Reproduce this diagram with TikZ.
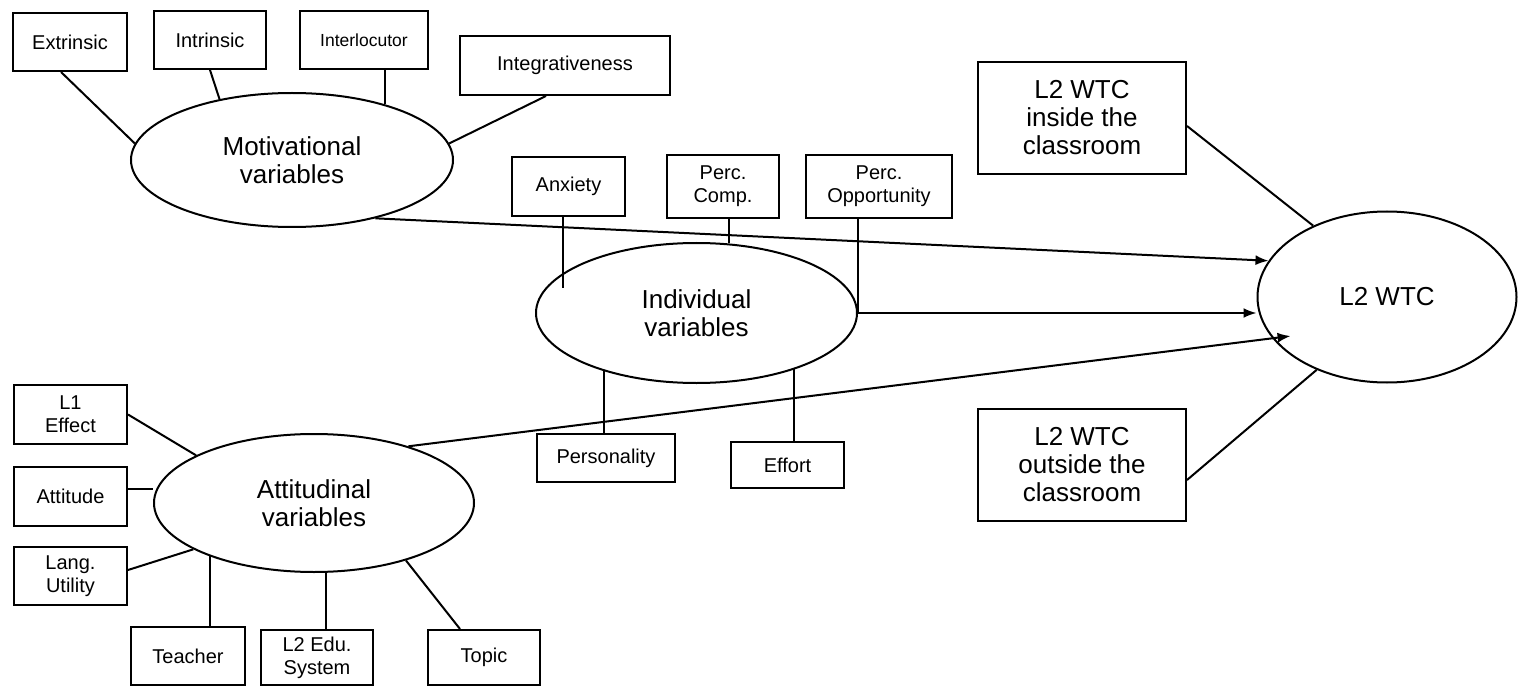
\documentclass[tikz,border=0pt]{standalone}
\usepackage{fontspec}
\setmainfont{Liberation Sans}
\usepackage{tikz}
\usetikzlibrary{shapes.geometric}
\usetikzlibrary{arrows.meta}
\tikzstyle{varbox} = [rectangle, draw=black, line width=2pt, inner sep=0pt, text centered, align=center, font=\fontsize{20}{23}\selectfont]
\tikzstyle{wtcbox} = [rectangle, draw=black, line width=2pt, inner sep=0pt, text centered, align=center, font=\fontsize{26}{28}\selectfont]
\tikzstyle{latent} = [ellipse, draw=black, line width=2pt, inner sep=0pt, text centered, align=center, font=\fontsize{26}{28.5}\selectfont]
\tikzstyle{link} = [line width=2pt]
\tikzstyle{arrow} = [line width=2pt, -{Latex[length=13pt,width=10pt]}]

\begin{document}
\begin{tikzpicture}[x=1pt, y=-1pt]
        \useasboundingbox (0,0) rectangle (1518,687);
        \node (mot) [latent, minimum width=322pt, minimum height=134pt] at (292,160) {Motivational\\variables};
        \node (ind) [latent, minimum width=321pt, minimum height=140pt] at (696.5,313) {Individual\\variables};
        \node (att) [latent, minimum width=320pt, minimum height=138pt] at (314,503) {Attitudinal\\variables};
        \node (wtc) [latent, minimum width=259pt, minimum height=171pt] at (1387,297) {L2 WTC};

        \node (ext) [varbox, minimum width=114pt, minimum height=58pt] at (70,42) {Extrinsic};
        \node (intr) [varbox, minimum width=112pt, minimum height=58pt] at (210,40) {Intrinsic};
        \node (intl) [varbox, minimum width=128pt, minimum height=58pt, font=\fontsize{17.5}{20}\selectfont] at (364,40) {Interlocutor};
        \node (integ) [varbox, minimum width=210pt, minimum height=59pt] at (565,65.5) {Integrativeness};

        \node (anx) [varbox, minimum width=113pt, minimum height=59pt] at (568.5,186.5) {Anxiety};
        \node (pcomp) [varbox, minimum width=112pt, minimum height=63pt] at (723,186.5) {Perc.\\Comp.};
        \node (popp) [varbox, minimum width=146pt, minimum height=63pt] at (879,186.5) {Perc.\\Opportunity};
        \node (pers) [varbox, minimum width=138pt, minimum height=48pt] at (606,458) {Personality};
        \node (effort) [varbox, minimum width=113pt, minimum height=46pt] at (787.5,465) {Effort};

        \node (l1) [varbox, minimum width=113pt, minimum height=59pt] at (70.5,414.5) {L1\\Effect};
        \node (attd) [varbox, minimum width=113pt, minimum height=59pt] at (70.5,496.5) {Attitude};
        \node (lang) [varbox, minimum width=113pt, minimum height=58pt] at (70.5,576) {Lang.\\Utility};
        \node (teacher) [varbox, minimum width=114pt, minimum height=58pt] at (188,656) {Teacher};
        \node (edu) [varbox, minimum width=112pt, minimum height=55pt] at (317,657.5) {L2 Edu.\\System};
        \node (topic) [varbox, minimum width=112pt, minimum height=55pt] at (484,657.5) {Topic};

        \node (inside) [wtcbox, minimum width=208pt, minimum height=112pt] at (1082,118) {L2 WTC\\inside the\\classroom};
        \node (outside) [wtcbox, minimum width=208pt, minimum height=112pt] at (1082,465) {L2 WTC\\outside the\\classroom};

        \draw [link] ([xshift=-9pt]ext.south) -- (mot.174);
        \draw [link] (intr.south) -- (mot.140);
        \draw [link] (mot.31) -- (mot.31 |- intl.south);
        \draw [link] ([xshift=-19pt]integ.south) -- (mot.6);

        \draw [link] ([xshift=-6pt]anx.south) -- ++(0,71);
        \draw [link] (ind.65) -- (ind.65 |- pcomp.south);
        \draw [link] (ind.east |- popp.south) -- (ind.east);
        \draw [link] (ind.212) -- (ind.212 |- pers.north);
        \draw [link] (ind.-30) -- (ind.-30 |- effort.north);

        \draw [link] (l1.east) -- (att.158);
        \draw [link] ([yshift=8pt]attd.east) -- ([yshift=8pt]attd.east -| att.west);
        \draw [link] ([yshift=6pt]lang.east) -- (att.201);
        \draw [link] (att.207) -- (att.207 |- teacher.north);
        \draw [link] (att.-80) -- (att.-80 |- edu.north);
        \draw [link] ([xshift=-24pt]topic.north) -- (att.-32);

        \draw [link] ([yshift=-8pt]inside.east) -- (wtc.136);
        \draw [link] ([yshift=-15pt]outside.east) -- (wtc.226);

        \draw [arrow] (mot.-35.6) -- (wtc.163.6);
        \draw [arrow] (ind.east) -- (ind.east -| wtc.west);
        \draw [arrow] (att.31.5) -- ([xshift=15pt,yshift=6pt]wtc.202);
    \end{tikzpicture}
\end{document}
